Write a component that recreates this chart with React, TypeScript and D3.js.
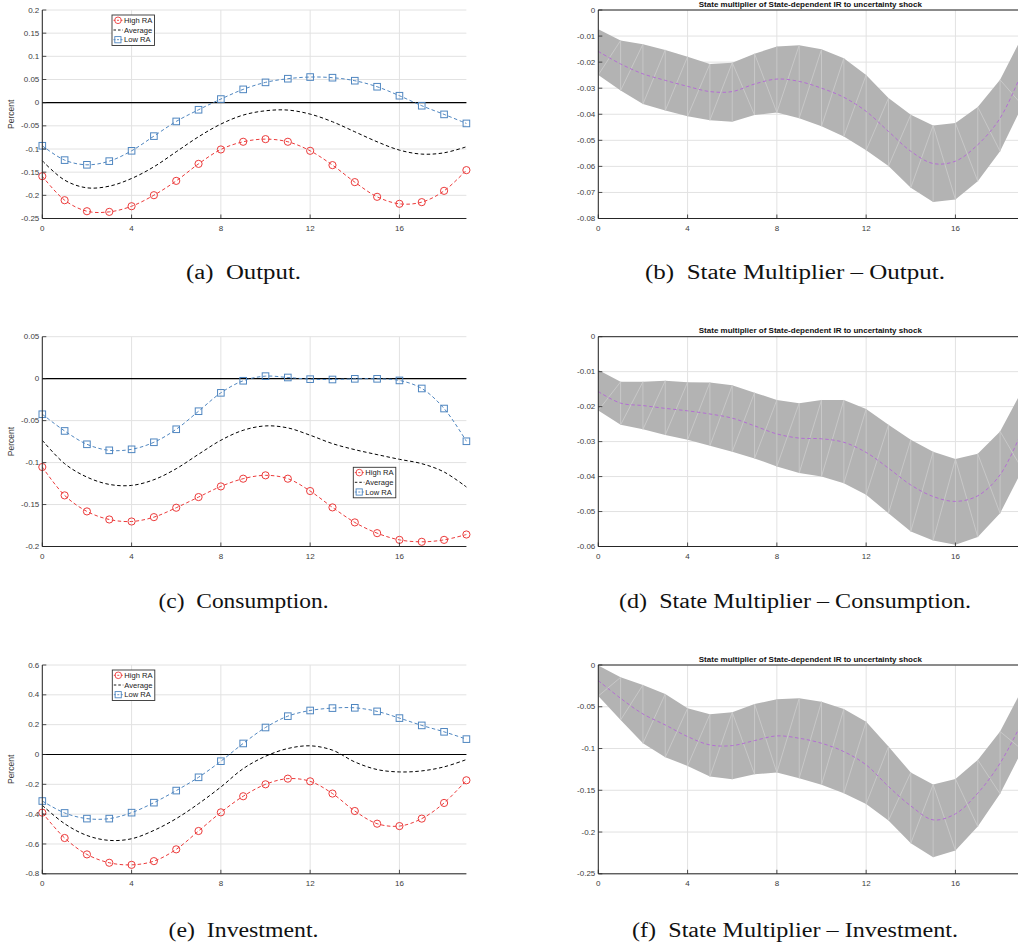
import React from 'react';
import * as d3 from 'd3';

// Horizon (quarters after the shock)
const horizon = [0, 1, 2, 3, 4, 5, 6, 7, 8, 9, 10, 11, 12, 13, 14, 15, 16, 17, 18, 19];
const xTicks = [0, 4, 8, 12, 16];

// (a) Output
const outputHigh = [-0.1587, -0.2105, -0.2343, -0.2357, -0.2235, -0.1997, -0.1688, -0.1321, -0.101, -0.0844, -0.0787, -0.0844, -0.1039, -0.1348, -0.1715, -0.2032, -0.2183, -0.2147, -0.1903, -0.1456];
const outputAvg = [-0.1255, -0.1672, -0.1838, -0.1802, -0.1636, -0.1384, -0.106, -0.0736, -0.0462, -0.0268, -0.0175, -0.016, -0.0247, -0.0412, -0.0628, -0.0844, -0.1024, -0.111, -0.1082, -0.0952];
const outputLow = [-0.093, -0.124, -0.1341, -0.1262, -0.1039, -0.0722, -0.0405, -0.0153, 0.0078, 0.0287, 0.0438, 0.0517, 0.0553, 0.0539, 0.0474, 0.0344, 0.015, -0.0066, -0.0253, -0.0448];
const outputTicks = [0.2, 0.15, 0.1, 0.05, 0, -0.05, -0.1, -0.15, -0.2, -0.25];

// (c) Consumption
const consHigh = [-0.1053, -0.1391, -0.1582, -0.1678, -0.1702, -0.165, -0.1538, -0.1411, -0.1284, -0.1192, -0.1152, -0.1192, -0.1339, -0.1534, -0.1713, -0.1841, -0.1921, -0.1944, -0.1921, -0.1857];
const consAvg = [-0.0734, -0.1013, -0.1173, -0.126, -0.1272, -0.1204, -0.1073, -0.0901, -0.0734, -0.0615, -0.0563, -0.0587, -0.0674, -0.0774, -0.0846, -0.0905, -0.0961, -0.1013, -0.1112, -0.1291];
const consLow = [-0.0424, -0.0623, -0.0782, -0.0854, -0.0842, -0.0758, -0.0603, -0.0388, -0.0169, -0.0025, 0.003, 0.0014, -0.0006, -0.001, -0.0002, -0.0002, -0.0021, -0.0117, -0.0356, -0.0746];
const consTicks = [0.05, 0, -0.05, -0.1, -0.15, -0.2];

// (e) Investment
const invHigh = [-0.39, -0.56, -0.67, -0.726, -0.74, -0.715, -0.636, -0.513, -0.388, -0.28, -0.2, -0.162, -0.18, -0.262, -0.379, -0.464, -0.48, -0.43, -0.325, -0.173];
const invAvg = [-0.341, -0.464, -0.543, -0.576, -0.565, -0.509, -0.43, -0.33, -0.218, -0.095, -0.012, 0.04, 0.058, 0.029, -0.05, -0.101, -0.117, -0.11, -0.083, -0.034];
const invLow = [-0.312, -0.392, -0.43, -0.43, -0.39, -0.323, -0.242, -0.153, -0.045, 0.074, 0.181, 0.257, 0.295, 0.311, 0.313, 0.289, 0.244, 0.195, 0.152, 0.103];
const invTicks = [0.6, 0.4, 0.2, 0, -0.2, -0.4, -0.6, -0.8];

// (b) State multiplier, output
const smOutUpper = [-0.0074, -0.0117, -0.0131, -0.0153, -0.0179, -0.0207, -0.0202, -0.0168, -0.014, -0.0135, -0.0151, -0.0185, -0.0249, -0.0338, -0.0402, -0.0443, -0.0434, -0.0372, -0.0268, -0.01];
const smOutMedian = [-0.0159, -0.0207, -0.0245, -0.027, -0.0293, -0.0313, -0.0313, -0.0284, -0.0265, -0.0274, -0.03, -0.0335, -0.0389, -0.0466, -0.0542, -0.0589, -0.058, -0.0517, -0.0415, -0.0235];
const smOutLower = [-0.0249, -0.0309, -0.0361, -0.0386, -0.0408, -0.0423, -0.0429, -0.0403, -0.0393, -0.0415, -0.0446, -0.0485, -0.0538, -0.0599, -0.0682, -0.0737, -0.0727, -0.0657, -0.0542, -0.0366];
const smOutTicks = [0, -0.01, -0.02, -0.03, -0.04, -0.05, -0.06, -0.07, -0.08];

// (d) State multiplier, consumption
const smConsUpper = [-0.0095, -0.0129, -0.0129, -0.0126, -0.013, -0.0131, -0.0139, -0.016, -0.0181, -0.019, -0.0181, -0.0181, -0.0207, -0.0252, -0.0295, -0.0329, -0.035, -0.0335, -0.0271, -0.0152];
const smConsMedian = [-0.0157, -0.019, -0.0197, -0.0205, -0.0212, -0.0221, -0.0233, -0.0255, -0.0278, -0.029, -0.0292, -0.0302, -0.0331, -0.0376, -0.0424, -0.0457, -0.0471, -0.0455, -0.0395, -0.0267];
const smConsLower = [-0.0211, -0.0252, -0.0265, -0.0281, -0.0295, -0.0312, -0.0329, -0.0348, -0.0371, -0.039, -0.04, -0.0419, -0.0452, -0.0505, -0.0557, -0.0583, -0.0595, -0.0573, -0.0505, -0.038];
const smConsTicks = [0, -0.01, -0.02, -0.03, -0.04, -0.05, -0.06];

// (f) State multiplier, investment
const smInvUpper = [-0.0005, -0.0148, -0.0239, -0.0347, -0.0518, -0.059, -0.0566, -0.0467, -0.0411, -0.0399, -0.0439, -0.0526, -0.0678, -0.0977, -0.1288, -0.1431, -0.1364, -0.1136, -0.0797, -0.0287];
const smInvMedian = [-0.0187, -0.0399, -0.0586, -0.0718, -0.0857, -0.0957, -0.0965, -0.0905, -0.0849, -0.0877, -0.0937, -0.1037, -0.1196, -0.1455, -0.1687, -0.1854, -0.1782, -0.1535, -0.1176, -0.0678];
const smInvLower = [-0.0371, -0.0658, -0.0937, -0.1104, -0.1208, -0.1336, -0.1368, -0.1308, -0.1288, -0.1356, -0.1435, -0.1535, -0.1663, -0.1862, -0.2133, -0.2301, -0.2221, -0.1934, -0.1543, -0.1017];
const smInvTicks = [0, -0.05, -0.1, -0.15, -0.2, -0.25];

const legendLabels = ['High RA', 'Average', 'Low RA'];
const smTitle = 'State multiplier of State-dependent IR to uncertainty shock';
const captions = [
  '(a)\u2002Output.',
  '(b)\u2002State Multiplier \u2013 Output.',
  '(c)\u2002Consumption.',
  '(d)\u2002State Multiplier \u2013 Consumption.',
  '(e)\u2002Investment.',
  '(f)\u2002State Multiplier \u2013 Investment.',
];
// widths of the caption lines, in pixels
const captionWidths = [115, 300, 170, 352, 150, 326];

const AXIS = '#262626';
const GRID = '#e2e2e2';
const TICK_TXT = '#3c3c3c';
const RED = '#ec3b3b';
const BLUE = '#4f86c0';
const PURPLE = '#b36fd3';
const BAND = '#b3b3b3';
const SEAM = '#cdcdcd';
const SANS = '"Liberation Sans", Arial, Helvetica, sans-serif';
const SERIF = '"Liberation Serif", "Times New Roman", serif';

const rows = [
  { top: 10, bottom: 218.5 },
  { top: 336.7, bottom: 546.5 },
  { top: 665, bottom: 873.8 },
];
const LEFT_X = [42.3, 466.4];
const RIGHT_X = [598.3, 1022.4];

const fmt = (v: number) => String(v);

function Axes({ x, y, ticks, boxTop }: { x: d3.ScaleLinear<number, number>; y: d3.ScaleLinear<number, number>; ticks: number[]; boxTop: boolean }) {
  const [x0, x1] = x.range();
  const [yb, yt] = y.range();
  return (
    <g>
      <line x1={x0} x2={x0} y1={yt} y2={yb} stroke={AXIS} strokeWidth={1} />
      <line x1={x0} x2={x1} y1={yb} y2={yb} stroke={AXIS} strokeWidth={1} />
      {boxTop && <line x1={x0} x2={x1} y1={yt} y2={yt} stroke={AXIS} strokeWidth={1} />}
      {ticks.map((t) => (
        <g key={'y' + t}>
          <line x1={x0} x2={x0 + 4} y1={y(t)} y2={y(t)} stroke={AXIS} strokeWidth={0.8} />
          <text x={x0 - 3} y={y(t)} dy="0.33em" textAnchor="end" fontSize={8} fill={TICK_TXT} fontFamily={SANS}>{fmt(t)}</text>
        </g>
      ))}
      {xTicks.map((t) => (
        <g key={'x' + t}>
          <line x1={x(t)} x2={x(t)} y1={yb} y2={yb - 4} stroke={AXIS} strokeWidth={0.8} />
          <text x={x(t)} y={yb + 12.5} textAnchor="middle" fontSize={8} fill={TICK_TXT} fontFamily={SANS}>{t}</text>
        </g>
      ))}
    </g>
  );
}

function Grid({ x, y, ticks }: { x: d3.ScaleLinear<number, number>; y: d3.ScaleLinear<number, number>; ticks: number[] }) {
  const [x0, x1] = x.range();
  const [yb, yt] = y.range();
  return (
    <g>
      {ticks.map((t) => (
        <line key={'gy' + t} x1={x0} x2={x1} y1={y(t)} y2={y(t)} stroke={GRID} strokeWidth={1} />
      ))}
      {xTicks.map((t) => (
        <line key={'gx' + t} x1={x(t)} x2={x(t)} y1={yt} y2={yb} stroke={GRID} strokeWidth={1} />
      ))}
    </g>
  );
}

function Legend({ x0, y0 }: { x0: number; y0: number }) {
  const w = 42.5;
  const h = 30.5;
  const rowY = [5.3, 15, 24.7];
  return (
    <g>
      <rect x={x0} y={y0} width={w} height={h} fill="#fff" stroke="#333" strokeWidth={0.9} />
      {legendLabels.map((lab, i) => {
        const yy = y0 + rowY[i];
        const color = i === 0 ? RED : i === 1 ? '#000' : BLUE;
        return (
          <g key={lab}>
            <line x1={x0 + 1.5} x2={x0 + 11} y1={yy} y2={yy} stroke={color} strokeWidth={0.9} strokeDasharray={i === 1 ? '2.5,2' : '2,1.5'} />
            {i === 0 && <circle cx={x0 + 6} cy={yy} r={3.3} fill="none" stroke={RED} strokeWidth={0.9} />}
            {i === 2 && <rect x={x0 + 2.8} y={yy - 3.1} width={6.2} height={6.2} fill="none" stroke={BLUE} strokeWidth={0.9} />}
            <text x={x0 + 12} y={yy} dy="0.35em" fontSize={7.6} fill="#222" fontFamily={SANS}>{lab}</text>
          </g>
        );
      })}
    </g>
  );
}

function IRPanel({ row, high, avg, low, ticks, legend }: { row: number; high: number[]; avg: number[]; low: number[]; ticks: number[]; legend: [number, number] }) {
  const { top, bottom } = rows[row];
  const x = d3.scaleLinear().domain([0, 19]).range(LEFT_X);
  const y = d3.scaleLinear().domain([ticks[ticks.length - 1], ticks[0]]).range([bottom, top]);
  const line = d3
    .line<number>()
    .x((_, i) => x(horizon[i]))
    .y((d) => y(d))
    .curve(d3.curveCatmullRom.alpha(0.5));
  return (
    <g>
      <Grid x={x} y={y} ticks={ticks} />
      <line x1={LEFT_X[0]} x2={LEFT_X[1]} y1={y(0)} y2={y(0)} stroke="#000" strokeWidth={1.2} />
      <path d={line(avg) || ''} fill="none" stroke="#000" strokeWidth={1} strokeDasharray="3.5,2.5" />
      <path d={line(high) || ''} fill="none" stroke={RED} strokeWidth={1} strokeDasharray="3.5,2.5" />
      <path d={line(low) || ''} fill="none" stroke={BLUE} strokeWidth={1} strokeDasharray="3.5,2.5" />
      {high.map((d, i) => (
        <circle key={'h' + i} cx={x(horizon[i])} cy={y(d)} r={3.6} fill="none" stroke={RED} strokeWidth={1} />
      ))}
      {low.map((d, i) => (
        <rect key={'l' + i} x={x(horizon[i]) - 3.3} y={y(d) - 3.3} width={6.6} height={6.6} fill="none" stroke={BLUE} strokeWidth={1} />
      ))}
      <Axes x={x} y={y} ticks={ticks} boxTop={false} />
      <text transform={`translate(14,${(top + bottom) / 2}) rotate(-90)`} textAnchor="middle" fontSize={8.5} fill={TICK_TXT} fontFamily={SANS}>Percent</text>
      <Legend x0={legend[0]} y0={legend[1]} />
    </g>
  );
}

function SMPanel({ row, upper, median, lower, ticks }: { row: number; upper: number[]; median: number[]; lower: number[]; ticks: number[] }) {
  const { top, bottom } = rows[row];
  const x = d3.scaleLinear().domain([0, 19]).range(RIGHT_X);
  const y = d3.scaleLinear().domain([ticks[ticks.length - 1], ticks[0]]).range([bottom, top]);
  const band = d3
    .area<number>()
    .x((_, i) => x(horizon[i]))
    .y0((_, i) => y(lower[i]))
    .y1((d) => y(d));
  const mid = d3
    .line<number>()
    .x((_, i) => x(horizon[i]))
    .y((d) => y(d))
    .curve(d3.curveCatmullRom.alpha(0.5));
  // seams of the filled patch: one vertical edge per step plus the shorter diagonal of each quad
  const seams: [number, number, number, number][] = [];
  for (let i = 0; i < horizon.length - 1; i++) {
    const xa = x(horizon[i]);
    const xb = x(horizon[i + 1]);
    if (i > 0) seams.push([xa, y(upper[i]), xa, y(lower[i])]);
    const dA = Math.abs(upper[i] - lower[i + 1]);
    const dB = Math.abs(lower[i] - upper[i + 1]);
    if (dA < dB) seams.push([xa, y(upper[i]), xb, y(lower[i + 1])]);
    else seams.push([xa, y(lower[i]), xb, y(upper[i + 1])]);
  }
  return (
    <g>
      <Grid x={x} y={y} ticks={ticks} />
      <path d={band(upper) || ''} fill={BAND} stroke="none" />
      {seams.map((s, k) => (
        <line key={k} x1={s[0]} y1={s[1]} x2={s[2]} y2={s[3]} stroke={SEAM} strokeWidth={0.8} />
      ))}
      <path d={mid(median) || ''} fill="none" stroke={PURPLE} strokeWidth={1} strokeDasharray="3.5,2.5" />
      <Axes x={x} y={y} ticks={ticks} boxTop={true} />
      <text x={(RIGHT_X[0] + RIGHT_X[1]) / 2} y={top - 3.5} textAnchor="middle" fontSize={8} fontWeight="bold" fill="#111" fontFamily={SANS}>{smTitle}</text>
    </g>
  );
}

function Caption({ cx, y, text, width }: { cx: number; y: number; text: string; width: number }) {
  return (
    <text x={cx - width / 2} y={y} textLength={width} lengthAdjust="spacingAndGlyphs" fontSize={20.5} fill="#111" fontFamily={SERIF}>
      {text}
    </text>
  );
}

export default function App() {
  const capY = [279, 607.7, 936.7];
  return (
    <svg width={1018} height={947} viewBox="0 0 1018 947" style={{ position: 'absolute', left: 0, top: 0, background: '#fff' }}>
      <rect x={0} y={0} width={1018} height={947} fill="#fff" />
      <IRPanel row={0} high={outputHigh} avg={outputAvg} low={outputLow} ticks={outputTicks} legend={[112, 15]} />
      <IRPanel row={1} high={consHigh} avg={consAvg} low={consLow} ticks={consTicks} legend={[353.3, 467.3]} />
      <IRPanel row={2} high={invHigh} avg={invAvg} low={invLow} ticks={invTicks} legend={[112.3, 670]} />
      <SMPanel row={0} upper={smOutUpper} median={smOutMedian} lower={smOutLower} ticks={smOutTicks} />
      <SMPanel row={1} upper={smConsUpper} median={smConsMedian} lower={smConsLower} ticks={smConsTicks} />
      <SMPanel row={2} upper={smInvUpper} median={smInvMedian} lower={smInvLower} ticks={smInvTicks} />
      {captions.map((c, i) => (
        <Caption key={i} cx={i % 2 === 0 ? 243.5 : 795} y={capY[Math.floor(i / 2)]} text={c} width={captionWidths[i]} />
      ))}
    </svg>
  );
}
